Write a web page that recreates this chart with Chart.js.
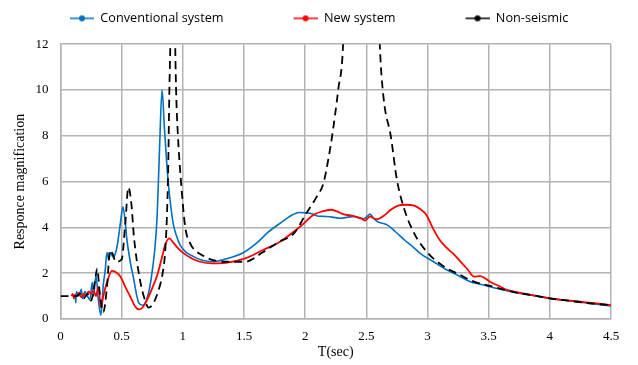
<!DOCTYPE html>
<html>
<head>
<meta charset="utf-8">
<script src="https://cdn.jsdelivr.net/npm/chart.js@4.4.0/dist/chart.umd.min.js"></script>
<style>
  html, body { margin: 0; padding: 0; background: #fff; }
</style>
</head>
<body>
<canvas id="respuesta" width="638" height="365"></canvas>
<script>
// periodos y amplificacion
var convT = [0.12, 0.125, 0.13, 0.15, 0.17, 0.18, 0.20, 0.22, 0.24, 0.26, 0.27, 0.29, 0.31, 0.33, 0.35, 0.365, 0.38, 0.395, 0.41, 0.43, 0.46, 0.49, 0.51, 0.53, 0.54, 0.57, 0.60, 0.62, 0.64, 0.67, 0.70, 0.73, 0.755, 0.77, 0.79, 0.81, 0.83, 0.85, 0.88, 0.90, 0.92, 0.95, 0.98, 1.03, 1.08, 1.14, 1.20, 1.25, 1.30, 1.40, 1.49, 1.60, 1.70, 1.80, 1.88, 1.95, 2.04, 2.10, 2.15, 2.22, 2.29, 2.35, 2.40, 2.45, 2.48, 2.51, 2.53, 2.56, 2.59, 2.67, 2.74, 2.81, 2.88, 2.94, 3.05, 3.16, 3.25, 3.35, 3.43, 3.51, 3.60, 3.76, 3.90, 4.00, 4.15, 4.30, 4.50];
var convY = [1.1, 0.7, 1.2, 1.0, 1.3, 0.9, 1.2, 1.0, 0.85, 1.6, 1.0, 1.9, 0.8, 0.17, 1.5, 2.1, 2.9, 2.6, 2.9, 2.7, 3.1, 4.2, 4.9, 4.2, 3.6, 2.5, 1.7, 1.1, 0.7, 0.6, 0.8, 1.4, 2.3, 3.0, 4.5, 7.5, 10.0, 8.3, 6.0, 5.0, 4.2, 3.6, 3.2, 2.9, 2.75, 2.6, 2.52, 2.5, 2.55, 2.7, 2.88, 3.3, 3.8, 4.2, 4.5, 4.65, 4.62, 4.5, 4.48, 4.45, 4.4, 4.45, 4.48, 4.42, 4.38, 4.5, 4.58, 4.4, 4.26, 4.11, 3.8, 3.46, 3.15, 2.87, 2.5, 2.14, 1.9, 1.63, 1.52, 1.41, 1.3, 1.12, 1.0, 0.9, 0.8, 0.7, 0.57];

var nuevoT = [0.09, 0.10, 0.11, 0.12, 0.14, 0.15, 0.17, 0.19, 0.21, 0.23, 0.25, 0.27, 0.29, 0.31, 0.33, 0.35, 0.38, 0.42, 0.45, 0.49, 0.53, 0.57, 0.61, 0.64, 0.67, 0.705, 0.75, 0.79, 0.83, 0.86, 0.89, 0.92, 0.96, 1.00, 1.07, 1.14, 1.24, 1.35, 1.51, 1.65, 1.80, 1.96, 2.07, 2.14, 2.21, 2.26, 2.31, 2.37, 2.42, 2.46, 2.49, 2.53, 2.56, 2.59, 2.64, 2.70, 2.76, 2.82, 2.89, 2.94, 2.99, 3.05, 3.10, 3.16, 3.22, 3.27, 3.33, 3.38, 3.43, 3.47, 3.51, 3.58, 3.65, 3.75, 3.84, 4.00, 4.12, 4.25, 4.50];
var nuevoY = [1.0, 1.1, 0.9, 1.05, 1.0, 1.15, 0.95, 1.1, 1.0, 1.2, 1.1, 1.25, 1.0, 1.4, 0.5, 1.0, 1.6, 2.1, 2.05, 1.85, 1.4, 0.98, 0.55, 0.42, 0.5, 0.8, 1.35, 1.9, 2.7, 3.3, 3.52, 3.35, 3.1, 2.9, 2.65, 2.5, 2.43, 2.45, 2.65, 3.0, 3.4, 4.04, 4.55, 4.7, 4.77, 4.7, 4.58, 4.52, 4.45, 4.38, 4.3, 4.48, 4.4, 4.36, 4.5, 4.77, 4.95, 4.99, 4.95, 4.8, 4.55, 3.9, 3.45, 3.09, 2.8, 2.51, 2.15, 1.85, 1.87, 1.78, 1.63, 1.45, 1.27, 1.15, 1.05, 0.9, 0.82, 0.76, 0.61];

var noSismicoT = [0, 0.13, 0.16, 0.19, 0.22, 0.25, 0.28, 0.30, 0.32, 0.35, 0.38, 0.405, 0.43, 0.45, 0.50, 0.53, 0.555, 0.58, 0.60, 0.65, 0.69, 0.72, 0.76, 0.81, 0.835, 0.855, 0.87, 0.88, 0.89, 0.90, 0.915, 0.935, 0.945, 0.96, 0.985, 1.02, 1.06, 1.10, 1.17, 1.24, 1.35, 1.51, 1.65, 1.78, 1.91, 2.01, 2.09, 2.15, 2.19, 2.22, 2.27, 2.31, 2.46, 2.61, 2.64, 2.70, 2.75, 2.81, 2.89, 3.00, 3.08, 3.16, 3.24, 3.38, 3.51, 3.65, 3.76, 3.90, 4.00, 4.15, 4.30, 4.50];
var noSismicoY = [1, 1, 1.1, 0.9, 1.1, 0.8, 1.6, 2.2, 1.2, 0.3, 1.4, 3.0, 2.8, 2.5, 2.6, 4.2, 5.75, 5.0, 3.6, 1.7, 0.83, 0.5, 0.7, 1.41, 2.0, 2.9, 4.5, 6.5, 10.0, 13, 25, 13, 10, 8, 6, 4.0, 3.3, 3.0, 2.75, 2.58, 2.5, 2.5, 2.9, 3.35, 3.75, 4.62, 5.3, 5.94, 7.0, 7.98, 10.0, 12.0, 40, 12, 9.7, 7.98, 6.08, 4.8, 3.75, 2.9, 2.5, 2.2, 2.0, 1.63, 1.45, 1.25, 1.12, 1.0, 0.9, 0.8, 0.7, 0.6];

var etiquetas = ["Conventional system", "New system", "Non-seismic"];
var colores = ["#0070C0", "#FF0000", "#000000"];

function puntos(ts, ys) {
  return ts.map(function (t, i) { return { x: t, y: ys[i] }; });
}

// icono de leyenda: margen vacio a la izquierda + linea con punto
var margenIcono = 62;
function icono(color) {
  var c = document.createElement("canvas");
  c.width = margenIcono + 24; c.height = 8;
  var g = c.getContext("2d");
  g.strokeStyle = color; g.lineWidth = 1.5;
  g.beginPath(); g.moveTo(margenIcono, 4); g.lineTo(margenIcono + 24, 4); g.stroke();
  g.fillStyle = color;
  g.beginPath(); g.arc(margenIcono + 12, 4, 3, 0, 2 * Math.PI); g.fill();
  return c;
}

// separa un poco la leyenda del area del grafico
var espacioLeyenda = {
  id: "espacioLeyenda",
  beforeInit: function (chart) {
    var fitOriginal = chart.legend.fit;
    chart.legend.fit = function () {
      fitOriginal.call(this);
      this.height += 9.5;
    };
  },
};

var serif = "'Liberation Serif', 'Times New Roman', serif";
var gris = "#b3b3b3";

var ctx = document.getElementById("respuesta").getContext("2d");
var grafico = new Chart(ctx, {
  type: "line",
  data: {
    datasets: [
      {
        label: etiquetas[0],
        data: puntos(convT, convY),
        borderColor: colores[0],
        backgroundColor: colores[0],
        borderWidth: 1.6,
        pointRadius: 0,
        pointStyle: icono(colores[0]),
        cubicInterpolationMode: "monotone",
        order: 3,
      },
      {
        label: etiquetas[1],
        data: puntos(nuevoT, nuevoY),
        borderColor: colores[1],
        backgroundColor: colores[1],
        borderWidth: 1.8,
        pointRadius: 0,
        pointStyle: icono(colores[1]),
        cubicInterpolationMode: "monotone",
        order: 2,
      },
      {
        label: etiquetas[2],
        data: puntos(noSismicoT, noSismicoY),
        borderColor: colores[2],
        backgroundColor: colores[2],
        borderWidth: 1.8,
        borderDash: [8, 5],
        pointRadius: 0,
        pointStyle: icono(colores[2]),
        cubicInterpolationMode: "monotone",
        order: 1,
      },
    ],
  },
  options: {
    responsive: false,
    animation: false,
    layout: { padding: { top: 4, right: 27, left: 0, bottom: 0 } },
    plugins: {
      legend: {
        position: "top",
        align: "start",
        labels: {
          usePointStyle: true,
          pointStyleWidth: margenIcono + 24,
          padding: 8,
          color: "#000",
          font: { family: "'Open Sans', 'Liberation Sans', sans-serif", size: 12.7 },
          sort: function (a, b) { return a.datasetIndex - b.datasetIndex; },
        },
      },
      tooltip: { enabled: false },
    },
    scales: {
      x: {
        type: "linear",
        min: 0,
        max: 4.5,
        ticks: {
          stepSize: 0.5,
          color: "#000",
          font: { family: serif, size: 13 },
          maxRotation: 0,
          padding: 10,
          callback: function (v) { return String(v); },
        },
        grid: { color: gris, lineWidth: 1.5, drawTicks: false },
        border: { color: gris, width: 1.5 },
        title: {
          display: true,
          text: "T(sec)",
          color: "#000",
          font: { family: serif, size: 14 },
          padding: { top: 2 },
        },
        afterFit: function (scale) { scale.height = 46; },
      },
      y: {
        min: 0,
        max: 12,
        ticks: {
          stepSize: 2,
          color: "#000",
          font: { family: serif, size: 13 },
          padding: 12,
        },
        grid: { color: gris, lineWidth: 1.5, drawTicks: false },
        border: { color: gris, width: 1.5 },
        title: {
          display: true,
          text: "Responce magnification",
          color: "#000",
          font: { family: serif, size: 14 },
          padding: { top: 12, bottom: 0 },
        },
        afterFit: function (scale) { scale.width = 60.5; },
      },
    },
  },
  plugins: [espacioLeyenda],
});
</script>
</body>
</html>
